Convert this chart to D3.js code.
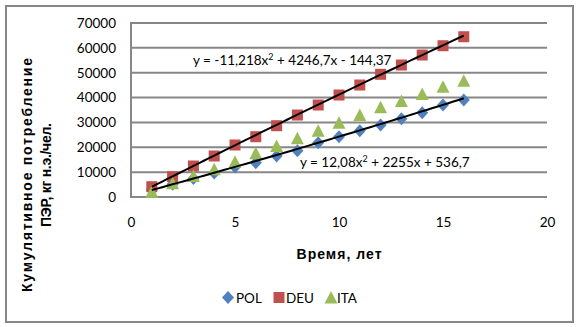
<!DOCTYPE html>
<html>
<head>
<meta charset="utf-8">
<script src="https://cdn.jsdelivr.net/npm/d3@7"></script>
<style>
  html, body { margin: 0; padding: 0; background: #fff; }
  svg { display: block; }
  text { font-family: Lato, "Open Sans", sans-serif; fill: #000; }
</style>
</head>
<body>
<svg id="chart" width="578" height="327"></svg>
<script>
// Years since start of observation
const years = [1, 2, 3, 4, 5, 6, 7, 8, 9, 10, 11, 12, 13, 14, 15, 16];

// Cumulative primary energy consumption, kg oil eq. per capita
const pol = [2800, 5100, 7400, 9700, 12100, 13800, 16490, 18620, 21840, 24260, 26680, 28960, 31500, 33920, 37010, 39020];
const deu = [4140, 8170, 12470, 16490, 20920, 24260, 28680, 32980, 37010, 41030, 45050, 49360, 53100, 57120, 60860, 64480];
const ita = [2130, 5500, 8450, 11140, 14200, 17570, 20500, 23600, 26680, 29900, 32980, 36080, 38620, 41430, 44370, 46780];

const seriesNames = ["POL", "DEU", "ITA"];
const seriesColors = ["#4F81BD", "#C0504D", "#9BBB59"];

// Polynomial trend coefficients [a, b, c] for y = a*x^2 + b*x + c
const deuTrend = [-11.218, 4246.7, -144.37];
const polTrend = [12.08, 2255, 536.7];

const xTicks = [0, 5, 10, 15, 20];
const yTicks = [0, 10000, 20000, 30000, 40000, 50000, 60000, 70000];

const svg = d3.select("#chart");
const plot = { left: 131, right: 547, top: 23, bottom: 197 };

const x = d3.scaleLinear().domain([0, 20]).range([plot.left, plot.right]);
const y = d3.scaleLinear().domain([0, 70000]).range([plot.bottom, plot.top]);

const gridColor = "#878787";
const titleFont = "Arial, 'Liberation Sans', sans-serif";

// Outer chart frame
svg.append("rect")
  .attr("x", 6).attr("y", 6).attr("width", 567).attr("height", 316)
  .attr("fill", "#fff").attr("stroke", gridColor).attr("stroke-width", 2);

// Horizontal gridlines
svg.append("g").selectAll("line").data(yTicks).join("line")
  .attr("x1", plot.left).attr("x2", plot.right)
  .attr("y1", d => y(d)).attr("y2", d => y(d))
  .attr("stroke", gridColor).attr("stroke-width", 2);

// Vertical axis line
svg.append("line")
  .attr("x1", plot.left).attr("x2", plot.left)
  .attr("y1", plot.top - 1).attr("y2", plot.bottom + 1)
  .attr("stroke", gridColor).attr("stroke-width", 2);

// Y tick labels
const yAxis = d3.axisLeft(y).tickValues(yTicks).tickSize(0).tickPadding(15)
  .tickFormat(d3.format("d"));
const gy = svg.append("g").attr("transform", `translate(${plot.left},0)`).call(yAxis);
gy.select(".domain").remove();
gy.selectAll("text").style("font-family", "Lato, sans-serif").style("font-size", "13.5px").attr("fill", "#000");

// X tick labels
const xAxis = d3.axisBottom(x).tickValues(xTicks).tickSize(0).tickPadding(20)
  .tickFormat(d3.format("d"));
const gx = svg.append("g").attr("transform", `translate(0,${plot.bottom})`).call(xAxis);
gx.select(".domain").remove();
gx.selectAll("text").style("font-family", "Lato, sans-serif").style("font-size", "13.5px").attr("fill", "#000");

// Axis titles
svg.append("text")
  .attr("x", x(10)).attr("y", 259)
  .attr("text-anchor", "middle")
  .attr("textLength", 85).attr("lengthAdjust", "spacing")
  .style("font-family", titleFont)
  .style("font-weight", "bold").style("font-size", "14px")
  .text("Время, лет");

const yTitle = svg.append("g").attr("transform", "translate(0,175) rotate(-90)");
yTitle.append("text").attr("x", 0).attr("y", 32)
  .attr("text-anchor", "middle")
  .attr("textLength", 234).attr("lengthAdjust", "spacing")
  .style("font-family", titleFont).style("font-weight", "bold").style("font-size", "14px")
  .text("Кумулятивное потребление");
yTitle.append("text").attr("x", 0).attr("y", 51)
  .attr("text-anchor", "middle")
  .attr("textLength", 104).attr("lengthAdjust", "spacing")
  .style("font-family", titleFont).style("font-weight", "bold").style("font-size", "14px")
  .text("ПЭР, кг н.э./чел.");

// Marker shapes
const shapes = {
  POL: "M0,-6.5L6,0L0,6.5L-6,0Z",
  DEU: "M-5.5,-5.5H5.5V5.5H-5.5Z",
  ITA: "M0,-6.5L6.5,6L-6.5,6Z"
};

const seriesData = [pol, deu, ita];
seriesNames.forEach((name, i) => {
  svg.append("g").selectAll("path").data(years.map((yr, j) => [yr, seriesData[i][j]])).join("path")
    .attr("transform", d => `translate(${x(d[0])},${y(d[1])})`)
    .attr("d", shapes[name])
    .attr("fill", seriesColors[i]);
});

// Polynomial trend lines
function trendPoints(c) {
  const pts = [];
  for (let t = 1; t <= 16.0001; t += 0.25) pts.push([t, c[0] * t * t + c[1] * t + c[2]]);
  return pts;
}
const line = d3.line().x(d => x(d[0])).y(d => y(d[1]));
[deuTrend, polTrend].forEach(c => {
  svg.append("path").attr("d", line(trendPoints(c)))
    .attr("fill", "none").attr("stroke", "#000").attr("stroke-width", 2);
});

// Trend equations
function equation(px, py, parts) {
  const t = svg.append("text").attr("x", px).attr("y", py)
    .style("font-family", "Lato, sans-serif").style("font-size", "13.5px");
  parts.forEach(p => {
    const s = t.append("tspan").text(p.t);
    if (p.sup) s.attr("baseline-shift", "super").style("font-size", "9px");
  });
}
equation(193, 65, [{ t: "y = -11,218x" }, { t: "2", sup: true }, { t: " + 4246,7x - 144,37" }]);
equation(300, 167, [{ t: "y = 12,08x" }, { t: "2", sup: true }, { t: " + 2255x + 536,7" }]);

// Legend
const legendItems = [
  { name: "POL", cx: 228, tx: 236 },
  { name: "DEU", cx: 279, tx: 286 },
  { name: "ITA", cx: 331, tx: 337 }
];
legendItems.forEach((d, i) => {
  svg.append("path").attr("transform", `translate(${d.cx},297.5)`)
    .attr("d", shapes[d.name]).attr("fill", seriesColors[i]);
  svg.append("text").attr("x", d.tx).attr("y", 302.5)
    .style("font-family", "Lato, sans-serif").style("font-size", "13.5px")
    .text(d.name);
});
</script>
</body>
</html>
